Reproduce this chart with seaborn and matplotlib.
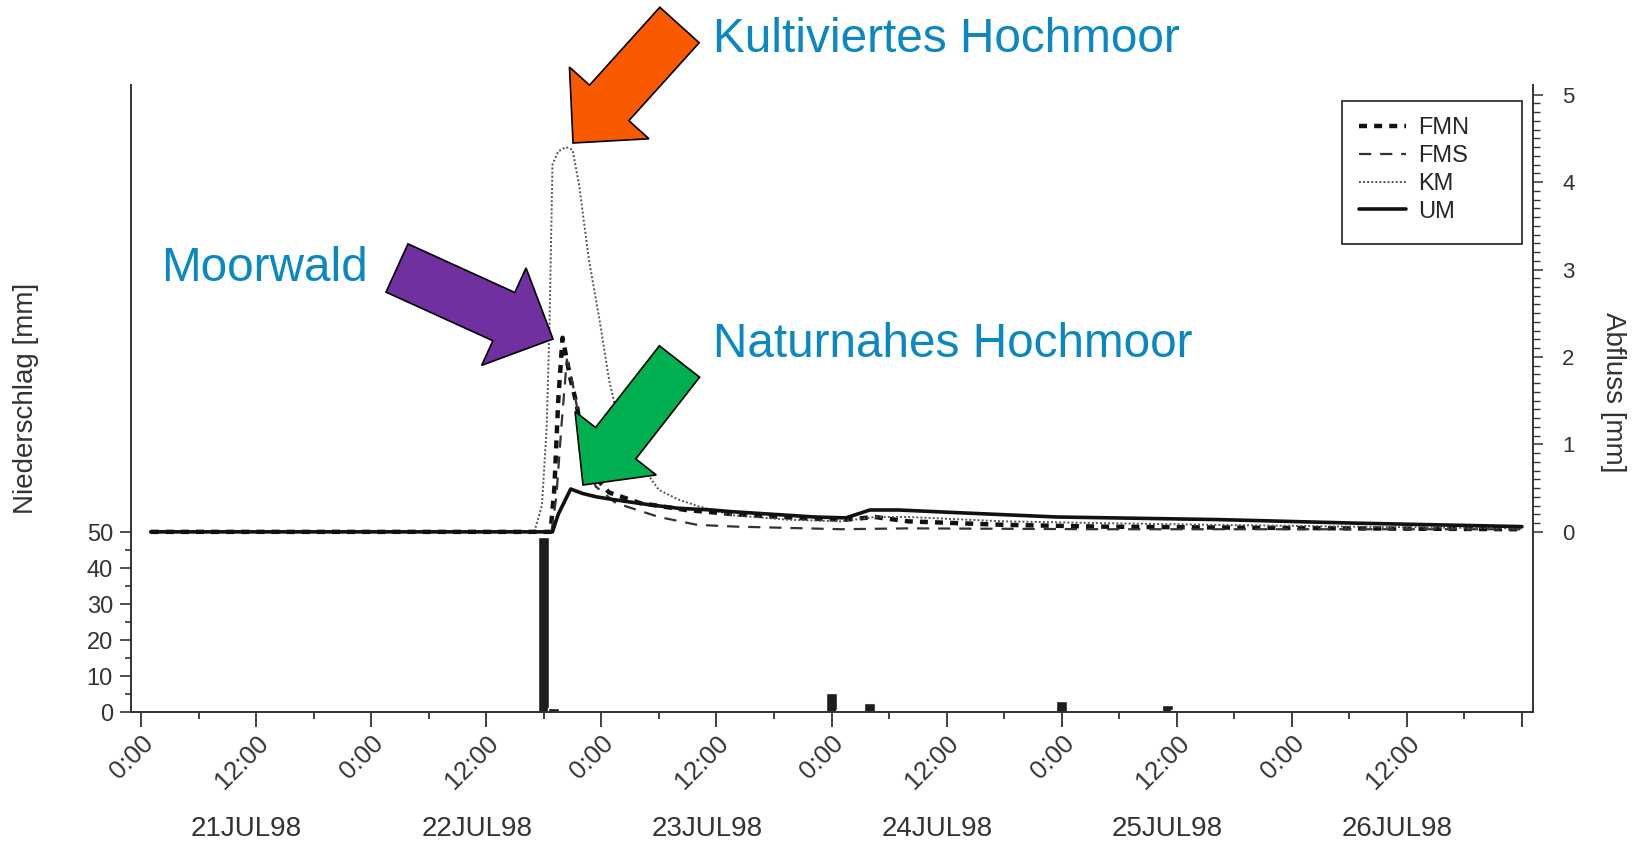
import numpy as np
import pandas as pd
import matplotlib
matplotlib.use("Agg")
import matplotlib.pyplot as plt
import matplotlib.dates as mdates
import matplotlib.patches as mpatches
import matplotlib.transforms as mtransforms
from matplotlib.ticker import FixedLocator, FuncFormatter
import seaborn as sns

# --- Daten (Stunden ab 21.07.1998 0:00) ---
t0 = pd.Timestamp("1998-07-21 00:00")

# Niederschlag [mm] (Stundenwerte)
rain_hours = [42, 43, 45, 48, 56, 71, 72, 73, 75, 76, 96, 98, 99, 100, 107, 108, 109, 112]
rain_mm = [48.5, 1.2, 0.5, 0.5, 0.5, 0.5, 5.4, 0.5, 0.5, 2.4, 3.0, 0.6, 0.6, 0.6, 1.9, 0.6, 0.6, 0.6]

# Abfluss [mm]
fmn_hours = [1, 42.7, 43.1, 43.5, 43.95, 44.8, 45.4, 46.0, 47.0, 48.8, 52, 56.8, 62, 70, 73.5, 76.5, 80, 90, 100, 112, 126, 144]
fmn = [0, 0, 0.5, 1.5, 2.22, 1.74, 1.47, 1.09, 0.67, 0.45, 0.33, 0.25, 0.20, 0.15, 0.14, 0.17, 0.12, 0.08, 0.06, 0.05, 0.04, 0.03]

fms_hours = [1, 42.8, 43.3, 43.9, 44.4, 45.0, 45.7, 46.4, 47.4, 49.5, 54, 58, 62, 73, 80, 100, 126, 144]
fms = [0, 0, 0.4, 1.3, 1.97, 1.7, 1.28, 0.9, 0.52, 0.33, 0.17, 0.08, 0.06, 0.03, 0.04, 0.03, 0.03, 0.03]

km_hours = [1, 41.0, 41.8, 42.3, 42.6, 42.9, 43.5, 44.3, 45.0, 45.7, 46.7, 47.8, 48.8, 49.5, 51.2, 54, 56, 58.2,
            61.7, 67.3, 73, 76.5, 80, 90, 100, 112, 126, 144]
km = [0, 0, 0.3, 1.2, 2.4, 4.2, 4.35, 4.4, 4.37, 3.95, 3.11, 2.43, 1.74, 1.40, 0.90, 0.48, 0.37, 0.29,
      0.19, 0.14, 0.12, 0.17, 0.17, 0.12, 0.10, 0.08, 0.06, 0.04]

um_hours = [1, 42.9, 43.5, 44.8, 46, 47.5, 49.8, 53, 56, 59.5, 61.7, 66, 70.2, 73.5, 76, 79, 85, 95.5,
            112.5, 126.5, 144]
um = [0, 0, 0.2, 0.49, 0.44, 0.40, 0.36, 0.31, 0.27, 0.25, 0.23, 0.20, 0.17, 0.16, 0.25, 0.25, 0.22, 0.17,
      0.14, 0.10, 0.06]

date_labels = ["21JUL98", "22JUL98", "23JUL98", "24JUL98", "25JUL98", "26JUL98"]
gebiete = ["FMN", "FMS", "KM", "UM"]


def to_time(hours):
    return t0 + pd.to_timedelta(np.asarray(hours, dtype=float), unit="h")


abfluss = pd.concat([
    pd.DataFrame({"Zeit": to_time(h), "Abfluss": v, "Gebiet": name})
    for name, h, v in [("FMN", fmn_hours, fmn), ("FMS", fms_hours, fms),
                       ("KM", km_hours, km), ("UM", um_hours, um)]
])
regen = pd.DataFrame({"Zeit": to_time(rain_hours), "Niederschlag": rain_mm})

# --- Stil ---
sns.set_theme(style="white")
plt.rcParams["font.family"] = ["Liberation Sans", "DejaVu Sans"]
grau = "#333333"

W, H = 1633, 846
fig = plt.figure(figsize=(W / 100, H / 100), dpi=100)
px = mtransforms.Affine2D().scale(1 / W, -1 / H).translate(0, 1) + fig.transFigure

ax = fig.add_axes([131 / W, 1 - 712 / H, (1533 - 131) / W, (712 - 85) / H])
ax2 = ax.twinx()

# Niederschlag als Balken
ax.bar(regen["Zeit"], regen["Niederschlag"], width=1.15 / 24, color="#1e1e1e", align="center")

# Abflusslinien
linien = {
    "FMN": dict(color="#111111", linewidth=3.2, linestyle=(0, (1.8, 1.6))),
    "FMS": dict(color="#333333", linewidth=1.6, linestyle=(0, (5.5, 4))),
    "KM": dict(color="#555555", linewidth=1.4, linestyle=(0, (1, 1.1))),
    "UM": dict(color="#111111", linewidth=2.6, linestyle="-"),
}
for name in gebiete:
    sns.lineplot(data=abfluss[abfluss["Gebiet"] == name], x="Zeit", y="Abfluss", ax=ax2,
                 errorbar=None, label=name, legend=False, **linien[name])

# Achsen
ax.set_xlim(t0 - pd.Timedelta(hours=1.05), t0 + pd.Timedelta(hours=145.15))
ax.set_ylim(0, 174.2)
ax2.set_ylim(-2.06, 5.11)

ax.set_yticks(range(0, 51, 10))
ax.yaxis.set_minor_locator(FixedLocator(range(5, 50, 10)))
ax2.set_yticks(range(0, 6))
ax2.yaxis.set_minor_locator(FixedLocator(np.arange(0, 5.01, 0.1)))

ax.xaxis.set_major_locator(mdates.HourLocator(byhour=[0, 12]))
ax.xaxis.set_minor_locator(mdates.HourLocator(byhour=[6, 18]))
ende = mdates.date2num(t0 + pd.Timedelta(hours=143))
ax.xaxis.set_major_formatter(FuncFormatter(
    lambda x, pos: "" if x > ende else f"{mdates.num2date(x).hour}:00"))

for s in ["top", "right"]:
    ax.spines[s].set_visible(False)
for s in ["top", "left", "bottom"]:
    ax2.spines[s].set_visible(False)
for a, s in [(ax, "left"), (ax, "bottom"), (ax2, "right")]:
    a.spines[s].set_color(grau)
    a.spines[s].set_linewidth(1.4)

ax.tick_params(axis="x", which="major", length=11, width=1.3, color=grau, labelsize=18.5,
               labelcolor=grau, pad=3, bottom=True)
ax.tick_params(axis="x", which="minor", length=5, width=1.3, color=grau, bottom=True)
ax.tick_params(axis="y", which="major", length=8, width=1.2, color=grau, labelsize=17,
               labelcolor=grau, pad=5, left=True)
ax.tick_params(axis="y", which="minor", length=4, width=1.2, color=grau, left=True)
ax2.tick_params(axis="y", which="major", length=7, width=1.1, color=grau, labelsize=16,
                labelcolor=grau, pad=14, right=True)
ax2.tick_params(axis="y", which="minor", length=5, width=1.0, color=grau, right=True)
for lab in ax.get_xticklabels():
    lab.set_rotation(45)
    lab.set_ha("right")
    lab.set_va("top")
    lab.set_rotation_mode("anchor")

ax.set_xlabel("")
ax.set_ylabel("")
ax2.set_ylabel("")

# Datumsbeschriftung unter den 12:00-Ticks
for i, d in enumerate(date_labels):
    ax.text(t0 + pd.Timedelta(hours=11 + 24 * i), -0.186, d, transform=ax.get_xaxis_transform(),
            ha="center", va="center", fontsize=20, color=grau)

fig.text(26, 398, "Niederschlag [mm]", transform=px, rotation=90, ha="center", va="center",
         fontsize=20, color=grau)
fig.text(1613, 392, "Abfluss [mm]", transform=px, rotation=270, ha="center", va="center",
         fontsize=20, color=grau)

# Legende
fig.add_artist(mpatches.Rectangle((1342, 101), 180, 143, transform=px, fill=False,
                                  edgecolor=grau, linewidth=1.3))
handles, labels = ax2.get_legend_handles_labels()
ax2.legend(handles, labels, loc="upper left", bbox_to_anchor=(1359, 117), bbox_transform=px,
           frameon=False, fontsize=17, handlelength=2.0, handletextpad=0.5, labelspacing=0.25,
           borderpad=0, borderaxespad=0)

# Pfeile und Beschriftungen
blau = "#0B88C2"
pfeile = [
    ((679.5, 25), (573, 143), 53, 107, 54, "#F95A00"),
    ((397, 268), (553, 339), 53, 107, 54, "#7030A0"),
    ((679.5, 361.5), (583, 485), 51, 103, 53, "#00B050"),
]
for (x0, y0), (x1, y1), w, hw, hl, farbe in pfeile:
    fig.add_artist(mpatches.FancyArrow(x0, y0, x1 - x0, y1 - y0, width=w, head_width=hw,
                                       head_length=hl, length_includes_head=True, transform=px,
                                       facecolor=farbe, edgecolor="black", linewidth=1.2,
                                       zorder=10))

for x, y, txt in [(713, 52, "Kultiviertes Hochmoor"), (161, 281, "Moorwald"),
                  (713, 357, "Naturnahes Hochmoor")]:
    fig.text(x, y, txt, transform=px, ha="left", va="baseline", fontsize=34.4, color=blau)

fig.savefig("out.png", dpi=100)
